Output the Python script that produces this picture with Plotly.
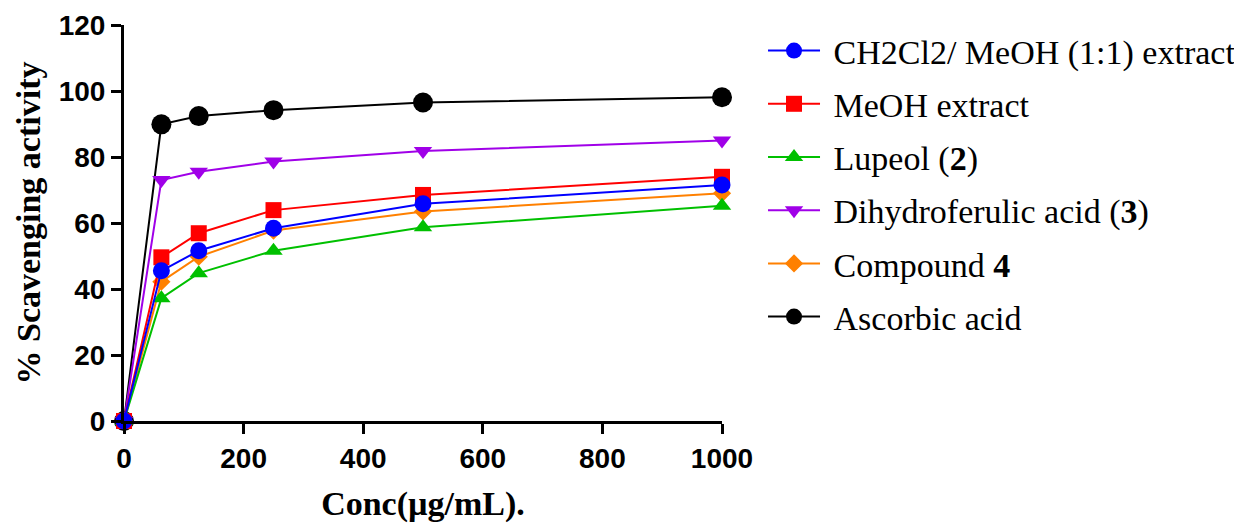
import plotly.graph_objects as go

conc = [0, 62.5, 125, 250, 500, 1000]

series_names = [
    "CH2Cl2/ MeOH (1:1) extract",
    "MeOH extract",
    "Lupeol (<b>2</b>)",
    "Dihydroferulic acid (<b>3</b>)",
    "Compound <b>4</b>",
    "Ascorbic acid",
]
ch2cl2_meoh = [0, 45.5, 51.6, 58.4, 65.8, 71.5]
meoh = [0, 49.6, 56.9, 63.9, 68.5, 74.0]
lupeol = [0, 37.2, 44.8, 51.6, 58.7, 65.2]
dihydroferulic = [0, 73.0, 75.5, 78.6, 81.8, 85.0]
compound4 = [0, 42.2, 49.8, 57.7, 63.5, 69.0]
ascorbic = [0, 89.9, 92.4, 94.2, 96.5, 98.1]

values = [ch2cl2_meoh, meoh, lupeol, dihydroferulic, compound4, ascorbic]
colors = ["#0000FF", "#FF0000", "#00C000", "#A000E8", "#FF8000", "#000000"]
symbols = ["circle", "square", "triangle-up", "triangle-down", "diamond", "circle"]
sizes = [17, 16, 16, 16, 14, 20]

fig = go.Figure()
# draw in reverse so the first series sits on top; keep legend order via legendrank
for i in reversed(range(len(series_names))):
    fig.add_trace(go.Scatter(
        x=conc, y=values[i], name="&nbsp;" + series_names[i],
        mode="lines+markers",
        line=dict(color=colors[i], width=2),
        marker=dict(symbol=symbols[i], size=sizes[i], color=colors[i]),
        cliponaxis=False,
        legendrank=i + 1,
        legendgroup="g%d" % i,
    ))

tick_font = dict(family="Liberation Sans", size=28, color="black", weight="bold")
title_font = dict(family="Liberation Serif", size=34, color="black", weight="bold")

fig.update_layout(
    width=1242, height=526,
    margin=dict(l=116, r=528, t=17, b=113, autoexpand=False),
    paper_bgcolor="white", plot_bgcolor="white",
    showlegend=True,
    legend=dict(
        x=1.0686, y=1.0076, xanchor="left", yanchor="top",
        font=dict(family="Liberation Serif", size=34, color="black"),
        tracegroupgap=6, itemwidth=52, maxheight=800,
        bgcolor="rgba(0,0,0,0)",
    ),
    xaxis=dict(
        range=[0, 1000], tickvals=[0, 200, 400, 600, 800, 1000],
        showline=True, linecolor="black", linewidth=3,
        ticks="outside", ticklen=10, tickwidth=3, tickcolor="black",
        showgrid=False, zeroline=False, tickfont=tick_font, automargin=False,
        title=dict(text="Conc(µg/mL).", font=title_font, standoff=19),
    ),
    yaxis=dict(
        range=[0, 120], tickvals=[0, 20, 40, 60, 80, 100, 120],
        showline=True, linecolor="black", linewidth=3,
        ticks="outside", ticklen=10, tickwidth=3, tickcolor="black",
        showgrid=False, zeroline=False, tickfont=tick_font, automargin=False,
        title=dict(text="% Scavenging activity", font=title_font, standoff=8),
    ),
)

fig.write_html("out.html")
